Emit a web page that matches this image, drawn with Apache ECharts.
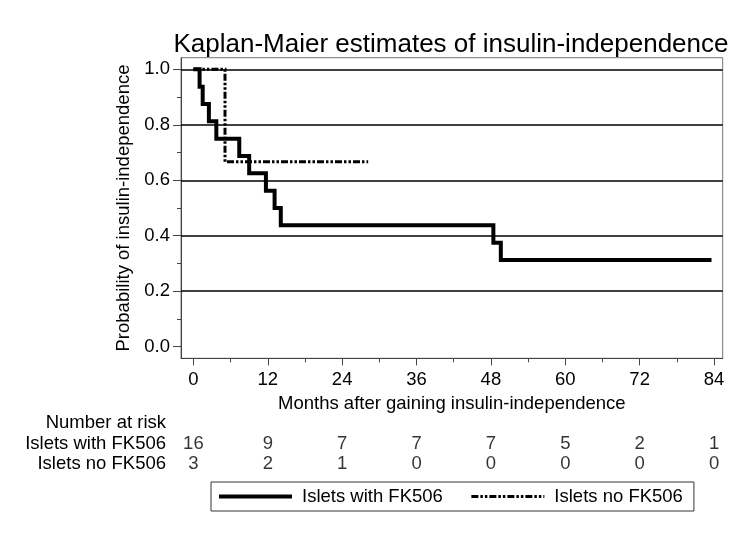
<!DOCTYPE html>
<html><head><meta charset="utf-8">
<script src="https://cdn.jsdelivr.net/npm/echarts@6/dist/echarts.min.js"></script>
<style>html,body{margin:0;padding:0;background:#fff}#c{width:750px;height:549px}</style>
</head><body><div id="c"></div>
<script>
const xTicks = [0, 12, 24, 36, 48, 60, 72, 84];
const xMinorTicks = [6, 18, 30, 42, 54, 66, 78];
const yTicks = [0, 0.2, 0.4, 0.6, 0.8, 1.0];
const yMinorTicks = [0.1, 0.3, 0.5, 0.7, 0.9];
const gridValues = [0.2, 0.4, 0.6, 0.8, 1.0];

const fkName = 'Islets with FK506';
const fkTimes = [0, 1.0, 1.5, 2.5, 3.7, 7.4, 9.0, 11.7, 13.1, 14.1, 48.4, 49.6, 83.6];
const fkSurv  = [1, 0.9375, 0.875, 0.8125, 0.75, 0.6875, 0.625, 0.5625, 0.5, 0.4375, 0.375, 0.3125, 0.3125];

const noFkName = 'Islets no FK506';
const noFkTimes = [0, 5.1, 28.2];
const noFkSurv  = [1, 0.6667, 0.6667];

const riskRows = ['Number at risk', 'Islets with FK506', 'Islets no FK506'];
const riskTimes = [0, 12, 24, 36, 48, 60, 72, 84];
const riskFk = [16, 9, 7, 7, 7, 5, 2, 1];
const riskNoFk = [3, 2, 1, 0, 0, 0, 0, 0];

const FONT = "'Liberation Sans', Arial, sans-serif";
const XMIN = -2, XMAX = 85.4, YMIN = -0.042, YMAX = 1.042;
const DASH = [7, 2, 2.5, 2, 2.5, 2];

const chart = echarts.init(document.getElementById('c'), null, {renderer: 'canvas'});

const riskData = [];
riskTimes.forEach((t, i) => riskData.push([t, riskRows[1], riskFk[i]]));
riskTimes.forEach((t, i) => riskData.push([t, riskRows[2], riskNoFk[i]]));

const option = {
  animation: false,
  backgroundColor: '#fff',
  textStyle: {fontFamily: FONT, color: '#000'},
  title: {
    text: 'Kaplan-Maier estimates of insulin-independence',
    left: 446, top: 27, textAlign: 'center',
    textStyle: {fontFamily: FONT, fontSize: 26, fontWeight: 'normal', color: '#000'}
  },
  legend: {
    data: [
      {name: fkName, lineStyle: {width: 4, type: 'solid', color: '#000'}},
      {name: noFkName, lineStyle: {width: 3, type: DASH, color: '#000'}}
    ],
    left: 211, top: 482,
    padding: [5, 11, 5, 6],
    borderColor: '#333', borderWidth: 1,
    itemWidth: 73, itemHeight: 14, itemGap: 27,
    itemStyle: {opacity: 0, color: 'rgba(0,0,0,0)', borderWidth: 0},
    textStyle: {fontFamily: FONT, fontSize: 18.5, color: '#000', padding: [0, 0, 0, 5], lineHeight: 17},
    selectedMode: false
  },
  grid: [
    {left: 181, right: 27.3, top: 57.7, bottom: 549 - 358.3, show: true, borderColor: '#777', borderWidth: 1, containLabel: false},
    {left: 181, right: 27.3, top: 412.8, height: 61.5, containLabel: false}
  ],
  xAxis: [
    {
      gridIndex: 0, type: 'value', min: XMIN, max: XMAX, position: 'bottom',
      name: 'Months after gaining insulin-independence', nameLocation: 'middle', nameGap: 31,
      nameTextStyle: {fontFamily: FONT, fontSize: 18.5, color: '#000'},
      axisLine: {show: true, onZero: false, lineStyle: {color: '#444', width: 1}},
      axisTick: {show: true, customValues: xTicks, length: 7, lineStyle: {color: '#444'}},
      axisLabel: {show: true, customValues: xTicks, margin: 12, fontFamily: FONT, fontSize: 18.5, color: '#000'},
      splitLine: {show: false}
    },
    {
      gridIndex: 0, type: 'value', min: XMIN, max: XMAX, position: 'bottom',
      axisLine: {show: false, onZero: false},
      axisTick: {show: true, customValues: xMinorTicks, length: 4, lineStyle: {color: '#444'}},
      axisLabel: {show: false},
      splitLine: {show: false}
    },
    {gridIndex: 1, type: 'value', min: XMIN, max: XMAX, show: false}
  ],
  yAxis: [
    {
      gridIndex: 0, type: 'value', min: YMIN, max: YMAX, position: 'left',
      name: 'Probability of insulin-independence', nameLocation: 'middle', nameGap: 40,
      nameTextStyle: {fontFamily: FONT, fontSize: 18.5, color: '#000'},
      axisLine: {show: true, onZero: false, lineStyle: {color: '#444', width: 1}},
      axisTick: {show: true, customValues: yTicks, length: 8, lineStyle: {color: '#444'}},
      axisLabel: {show: true, customValues: yTicks, margin: 11, fontFamily: FONT, fontSize: 18.5, color: '#000',
        formatter: v => Number(v).toFixed(1)},
      splitLine: {show: false}
    },
    {
      gridIndex: 0, type: 'value', min: YMIN, max: YMAX, position: 'left',
      axisLine: {show: false, onZero: false},
      axisTick: {show: true, customValues: yMinorTicks, length: 4, lineStyle: {color: '#444'}},
      axisLabel: {show: false},
      splitLine: {show: false}
    },
    {
      gridIndex: 1, type: 'category', data: riskRows, inverse: true,
      axisLine: {show: false}, axisTick: {show: false}, splitLine: {show: false},
      axisLabel: {interval: 0, margin: 15, fontFamily: FONT, fontSize: 18.5, color: '#000'}
    }
  ],
  series: [
    {
      name: 'gridlines', type: 'line', xAxisIndex: 0, yAxisIndex: 0, data: [], z: 1, silent: true,
      markLine: {
        silent: true, symbol: ['none', 'none'], animation: false,
        label: {show: false},
        lineStyle: {color: '#000', width: 1.5, type: 'solid'},
        emphasis: {disabled: true},
        data: gridValues.map(v => ({yAxis: v}))
      }
    },
    {
      name: fkName, type: 'line', xAxisIndex: 0, yAxisIndex: 0, step: 'end', symbol: 'none', z: 4,
      data: fkTimes.map((t, i) => [t, fkSurv[i]]),
      lineStyle: {color: '#000', width: 4, type: 'solid', cap: 'butt', join: 'miter'},
      itemStyle: {color: '#000'}
    },
    {
      name: noFkName, type: 'line', xAxisIndex: 0, yAxisIndex: 0, step: 'end', symbol: 'none', z: 3,
      data: noFkTimes.map((t, i) => [t, noFkSurv[i]]),
      lineStyle: {color: '#000', width: 3, type: DASH, cap: 'butt', join: 'miter'},
      itemStyle: {color: '#000'}
    },
    {
      name: 'risk', type: 'scatter', xAxisIndex: 2, yAxisIndex: 2, symbolSize: 0, silent: true,
      data: riskData,
      label: {show: true, position: 'inside', fontFamily: FONT, fontSize: 18.5, color: '#000',
        formatter: p => String(p.value[2])}
    }
  ]
};
chart.setOption(option);
</script>
</body></html>
